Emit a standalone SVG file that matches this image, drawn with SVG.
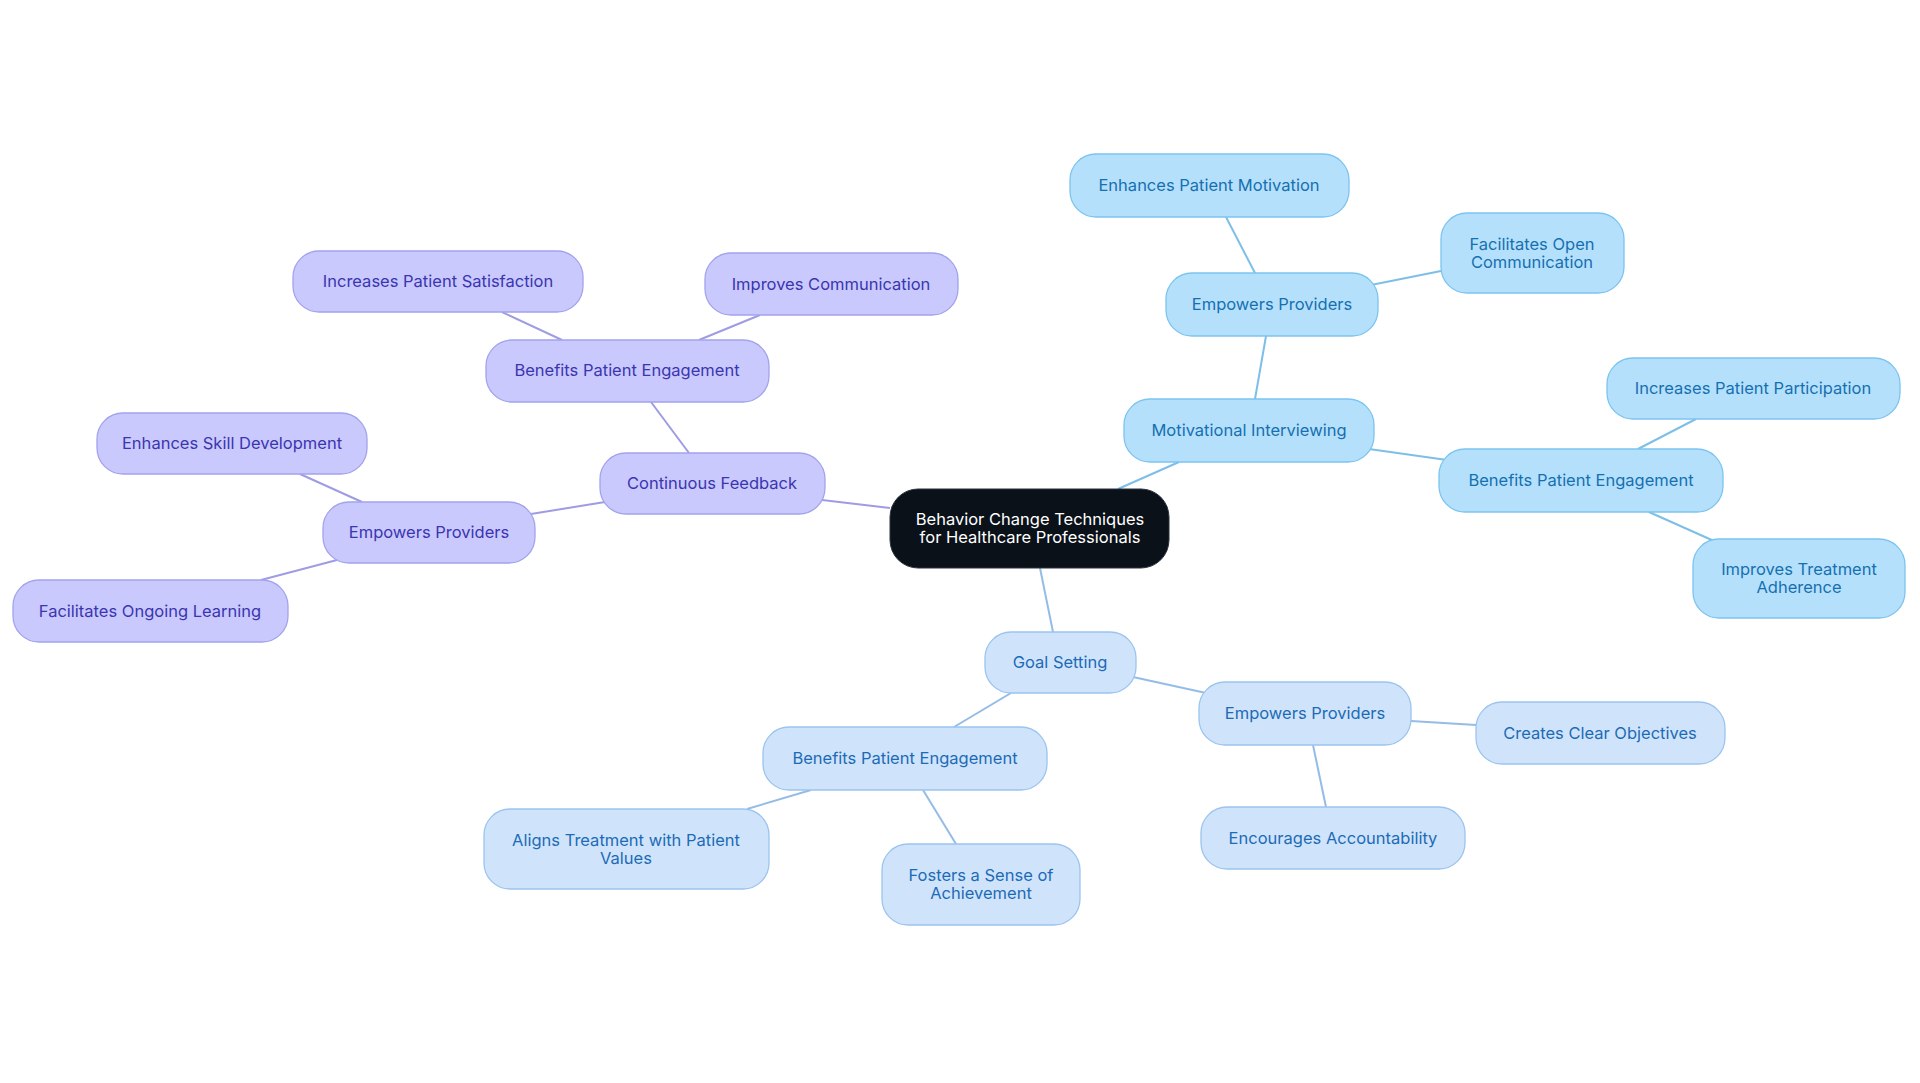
<svg xmlns="http://www.w3.org/2000/svg" width="1920" height="1083" viewBox="0 0 1920 1083">
<style>
text{font-family:Inter,"Liberation Sans",sans-serif;font-size:16.5px;text-anchor:middle;dominant-baseline:central}
.mi rect{fill:#b5e0fc;stroke:#7cc4ef;stroke-width:1.3}
.mi text{fill:#1570b0}
.gs rect{fill:#cfe4fb;stroke:#9cc4ee;stroke-width:1.3}
.gs text{fill:#1d6bb6}
.cf rect{fill:#c9c9fd;stroke:#a3a3ec;stroke-width:1.3}
.cf text{fill:#3b35b0}
.e line{stroke-width:2}
</style>
<rect width="1920" height="1083" fill="#fff"/>
<g id="connectors" class="e">
<g stroke="#7dbfe6">
<line x1="1118" y1="489" x2="1179" y2="462"/><line x1="1255" y1="399" x2="1266" y2="336"/>
<line x1="1255" y1="273" x2="1226" y2="217"/><line x1="1371" y1="285" x2="1441" y2="271"/>
<line x1="1369" y1="449" x2="1447" y2="460"/><line x1="1638" y1="449" x2="1696" y2="419"/>
<line x1="1649" y1="512" x2="1714" y2="541"/></g>
<g stroke="#94bce6">
<line x1="1040" y1="568" x2="1053" y2="632"/><line x1="1133" y1="677" x2="1206" y2="693"/>
<line x1="1411" y1="721" x2="1476" y2="725"/><line x1="1313" y1="745" x2="1326" y2="807"/>
<line x1="1011" y1="693" x2="954" y2="727"/><line x1="811" y1="790" x2="747" y2="809"/>
<line x1="923" y1="790" x2="956" y2="844"/></g>
<g stroke="#9e9ce2">
<line x1="890" y1="508" x2="822" y2="500"/><line x1="689" y1="453" x2="651" y2="402"/>
<line x1="562" y1="340" x2="502" y2="312"/><line x1="699" y1="340" x2="760" y2="315"/>
<line x1="605" y1="502" x2="531" y2="514"/><line x1="362" y1="502" x2="300" y2="474"/>
<line x1="337" y1="560" x2="261" y2="580"/></g>
</g>
<g id="center"><rect x="890" y="489" width="279" height="79" rx="28" fill="#0b1119" stroke="#2a3340"/><text x="1030" y="519" fill="#fff">Behavior Change Techniques</text><text x="1030" y="537" fill="#fff">for Healthcare Professionals</text></g>
<g id="mi" class="mi"><rect x="1124" y="399" width="250" height="63" rx="26"/><text x="1249" y="430">Motivational Interviewing</text></g>
<g id="mi-ep" class="mi"><rect x="1166" y="273" width="212" height="63" rx="26"/><text x="1272" y="304">Empowers Providers</text></g>
<g id="mi-epm" class="mi"><rect x="1070" y="154" width="279" height="63" rx="26"/><text x="1209" y="185">Enhances Patient Motivation</text></g>
<g id="mi-foc" class="mi"><rect x="1441" y="213" width="183" height="80" rx="26"/><text x="1532" y="244">Facilitates Open</text><text x="1532" y="262">Communication</text></g>
<g id="mi-bpe" class="mi"><rect x="1439" y="449" width="284" height="63" rx="26"/><text x="1581" y="480">Benefits Patient Engagement</text></g>
<g id="mi-ipp" class="mi"><rect x="1607" y="358" width="293" height="61" rx="26"/><text x="1753" y="388">Increases Patient Participation</text></g>
<g id="mi-ita" class="mi"><rect x="1693" y="539" width="212" height="79" rx="26"/><text x="1799" y="569">Improves Treatment</text><text x="1799" y="587">Adherence</text></g>
<g id="gs" class="gs"><rect x="985" y="632" width="151" height="61" rx="26"/><text x="1060" y="662">Goal Setting</text></g>
<g id="gs-ep" class="gs"><rect x="1199" y="682" width="212" height="63" rx="26"/><text x="1305" y="713">Empowers Providers</text></g>
<g id="gs-cco" class="gs"><rect x="1476" y="702" width="249" height="62" rx="26"/><text x="1600" y="733">Creates Clear Objectives</text></g>
<g id="gs-ea" class="gs"><rect x="1201" y="807" width="264" height="62" rx="26"/><text x="1333" y="838">Encourages Accountability</text></g>
<g id="gs-bpe" class="gs"><rect x="763" y="727" width="284" height="63" rx="26"/><text x="905" y="758">Benefits Patient Engagement</text></g>
<g id="gs-atp" class="gs"><rect x="484" y="809" width="285" height="80" rx="26"/><text x="626" y="840">Aligns Treatment with Patient</text><text x="626" y="858">Values</text></g>
<g id="gs-fsa" class="gs"><rect x="882" y="844" width="198" height="81" rx="26"/><text x="981" y="875">Fosters a Sense of</text><text x="981" y="893">Achievement</text></g>
<g id="cf" class="cf"><rect x="600" y="453" width="225" height="61" rx="26"/><text x="712" y="483">Continuous Feedback</text></g>
<g id="cf-bpe" class="cf"><rect x="486" y="340" width="283" height="62" rx="26"/><text x="627" y="370">Benefits Patient Engagement</text></g>
<g id="cf-ips" class="cf"><rect x="293" y="251" width="290" height="61" rx="26"/><text x="438" y="281">Increases Patient Satisfaction</text></g>
<g id="cf-ic" class="cf"><rect x="705" y="253" width="253" height="62" rx="26"/><text x="831" y="284">Improves Communication</text></g>
<g id="cf-ep" class="cf"><rect x="323" y="502" width="212" height="61" rx="26"/><text x="429" y="532">Empowers Providers</text></g>
<g id="cf-esd" class="cf"><rect x="97" y="413" width="270" height="61" rx="26"/><text x="232" y="443">Enhances Skill Development</text></g>
<g id="cf-fol" class="cf"><rect x="13" y="580" width="275" height="62" rx="26"/><text x="150" y="611">Facilitates Ongoing Learning</text></g>
</svg>
